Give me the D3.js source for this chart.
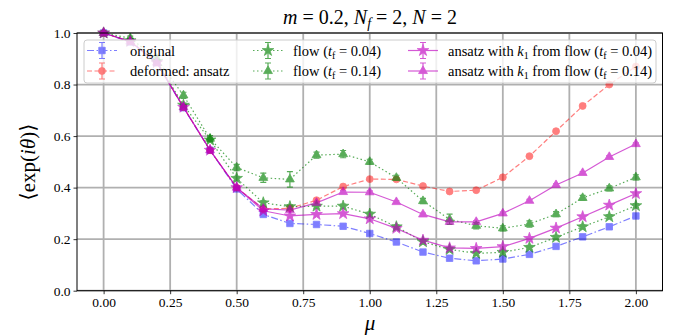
<!DOCTYPE html>
<html><head><meta charset="utf-8">
<script src="https://cdn.jsdelivr.net/npm/d3@7"></script>
<style>
body{margin:0;background:#fff;}
text, tspan {font-family:'Liberation Serif','Times New Roman','DejaVu Serif',serif !important;}
</style></head>
<body><svg id="c" width="678" height="335"></svg>
<script>
const mu = [0,0.1,0.2,0.3,0.4,0.5,0.6,0.7,0.8,0.9,1.0,1.1,1.2,1.3,1.4,1.5,1.6,1.7,1.8,1.9,2.0];
const original   = [1.0,0.965,0.885,0.71,0.545,0.395,0.296,0.261,0.257,0.25,0.222,0.189,0.15,0.126,0.116,0.123,0.141,0.172,0.209,0.248,0.29];
const originalErr= [0,0.003,0.003,0.004,0.004,0.004,0.004,0.004,0.004,0.004,0.004,0.004,0.004,0.004,0.004,0.004,0.004,0.004,0.004,0.004,0.004];
const deformed   = [1.0,0.967,0.885,0.712,0.545,0.40,0.317,0.32,0.351,0.404,0.433,0.432,0.406,0.385,0.39,0.44,0.522,0.619,0.717,0.80,0.87];
const deformedErr= [0,0.003,0.003,0.003,0.003,0.003,0.003,0.003,0.003,0.003,0.003,0.003,0.003,0.003,0.003,0.003,0.003,0.003,0.003,0.003,0.003];
const flow004    = [1.0,0.97,0.89,0.72,0.585,0.436,0.341,0.326,0.328,0.328,0.297,0.248,0.19,0.16,0.145,0.149,0.168,0.207,0.248,0.287,0.33];
const flow004Err = [0,0.006,0.006,0.008,0.008,0.008,0.008,0.008,0.008,0.008,0.008,0.008,0.008,0.008,0.008,0.008,0.008,0.008,0.008,0.008,0.008];
const flow014    = [1.0,0.98,0.90,0.758,0.59,0.478,0.438,0.432,0.526,0.53,0.50,0.438,0.348,0.277,0.252,0.242,0.259,0.297,0.36,0.397,0.44];
const flow014Err = [0,0.008,0.01,0.012,0.012,0.012,0.018,0.03,0.012,0.014,0.01,0.01,0.01,0.02,0.012,0.01,0.012,0.01,0.01,0.01,0.01];
const ans004     = [1.0,0.967,0.885,0.712,0.545,0.40,0.31,0.29,0.296,0.299,0.279,0.242,0.196,0.166,0.164,0.171,0.203,0.243,0.287,0.332,0.377];
const ans004Err  = [0,0.004,0.004,0.005,0.005,0.005,0.005,0.005,0.005,0.005,0.005,0.005,0.005,0.005,0.005,0.005,0.005,0.005,0.005,0.005,0.005];
const ans014     = [1.0,0.967,0.885,0.712,0.545,0.40,0.318,0.313,0.341,0.383,0.382,0.344,0.296,0.267,0.267,0.30,0.349,0.41,0.457,0.519,0.569];
const ans014Err  = [0,0.004,0.004,0.005,0.005,0.005,0.005,0.005,0.005,0.005,0.005,0.005,0.005,0.005,0.005,0.005,0.005,0.005,0.005,0.005,0.005];
const xTicks = [0,0.25,0.5,0.75,1.0,1.25,1.5,1.75,2.0];
const yTicks = [0,0.2,0.4,0.6,0.8,1.0];

const series = [
  {name:[["original"]], y:original, e:originalErr, color:"#0000ff", op:0.5, dash:"7,2.5,1.5,2.5", sym:d3.symbolSquare, size:42},
  {name:[["deformed: ansatz"]], y:deformed, e:deformedErr, color:"#ff0000", op:0.5, dash:"5,2.5", sym:d3.symbolCircle, size:38},
  {name:[["flow ("],["t","i"],["f","sub"],[" = 0.04)"]], y:flow004, e:flow004Err, color:"#008000", op:0.65, dash:"1.5,2.5", sym:d3.symbolStar, size:42},
  {name:[["flow ("],["t","i"],["f","sub"],[" = 0.14)"]], y:flow014, e:flow014Err, color:"#008000", op:0.65, dash:"1.5,2.5", sym:d3.symbolTriangle, size:34},
  {name:[["ansatz with "],["k","i"],["1","sub"],[" from flow ("],["t","i"],["f","sub"],[" = 0.04)"]], y:ans004, e:ans004Err, color:"#bf00bf", op:0.65, dash:null, sym:d3.symbolStar, size:42},
  {name:[["ansatz with "],["k","i"],["1","sub"],[" from flow ("],["t","i"],["f","sub"],[" = 0.14)"]], y:ans014, e:ans014Err, color:"#bf00bf", op:0.65, dash:null, sym:d3.symbolTriangle, size:34}
];

const svg = d3.select("#c");
const L=77, R=662.5, T=33, B=290.7;
const x = d3.scaleLinear().domain([-0.1,2.1]).range([L,R]);
const y = d3.scaleLinear().domain([0,1]).range([B,T]);

// grid
const g = svg.append("g");
g.selectAll(".gx").data(xTicks).enter().append("line")
 .attr("x1",d=>x(d)).attr("x2",d=>x(d)).attr("y1",T).attr("y2",B)
 .attr("stroke","#b0b0b0").attr("stroke-width",1.8);
g.selectAll(".gy").data(yTicks).enter().append("line")
 .attr("y1",d=>y(d)).attr("y2",d=>y(d)).attr("x1",L).attr("x2",R)
 .attr("stroke","#b0b0b0").attr("stroke-width",1.8);

// axes
const xAxis = d3.axisBottom(x).tickValues(xTicks).tickFormat(d3.format(".2f")).tickSize(3.5).tickPadding(3);
const yAxis = d3.axisLeft(y).tickValues(yTicks).tickFormat(d3.format(".1f")).tickSize(3.5).tickPadding(3);
const ax = svg.append("g").attr("transform",`translate(0,${B})`).call(xAxis);
const ay = svg.append("g").attr("transform",`translate(${L},0)`).call(yAxis);
[ax,ay].forEach(a=>{
  a.attr("font-family",null).attr("font-size",null);
  a.select(".domain").remove();
  a.selectAll("text").style("font-size","13.5px").attr("fill","#000");
  a.selectAll("line").attr("stroke","#000").attr("stroke-width",0.8);
});

// series
const line = d3.line().x((d,i)=>x(mu[i])).y(d=>y(d));
series.forEach(s=>{
  const gs = svg.append("g").attr("opacity",s.op);
  gs.append("path").datum(s.y).attr("d",line).attr("fill","none")
    .attr("stroke",s.color).attr("stroke-width",1.2)
    .attr("stroke-dasharray",s.dash);
  const pts = s.y.map((v,i)=>({x:mu[i],v:v,e:s.e[i]}));
  gs.selectAll(".eb").data(pts).enter().append("path")
    .attr("d",d=>{
      const px=x(d.x), y1=y(d.v-d.e), y2=y(d.v+d.e);
      return `M${px},${y1}V${y2}M${px-3},${y1}H${px+3}M${px-3},${y2}H${px+3}`;
    }).attr("stroke",s.color).attr("stroke-width",1.2).attr("fill","none");
  gs.selectAll(".mk").data(pts).enter().append("path")
    .attr("d",d3.symbol().type(s.sym).size(s.size))
    .attr("transform",d=>`translate(${x(d.x)},${y(d.v)})`)
    .attr("fill",s.color).attr("stroke",s.color).attr("stroke-width",0.8);
});

// frame
svg.append("rect").attr("x",L).attr("y",T).attr("width",R-L).attr("height",B-T)
  .attr("fill","none").attr("stroke","#000").attr("stroke-width",1);

// legend
const lg = svg.append("g");
lg.append("rect").attr("x",84).attr("y",40).attr("width",572).attr("height",43).attr("rx",3)
  .attr("fill","#fff").attr("fill-opacity",0.8).attr("stroke","#cccccc").attr("stroke-width",1);
const cols=[{hx:87,tx:130},{hx:253,tx:293},{hx:408,tx:448}];
series.forEach((s,i)=>{
  const c=cols[Math.floor(i/2)], ry=[50.5,71][i%2];
  const h = lg.append("g").attr("opacity",s.op);
  h.append("line").attr("x1",c.hx).attr("x2",c.hx+30).attr("y1",ry).attr("y2",ry)
    .attr("stroke",s.color).attr("stroke-width",1.2).attr("stroke-dasharray",s.dash);
  const mx=c.hx+15;
  h.append("path").attr("d",`M${mx},${ry-8}V${ry+8}M${mx-3},${ry-8}H${mx+3}M${mx-3},${ry+8}H${mx+3}`)
    .attr("stroke",s.color).attr("stroke-width",1.2);
  h.append("path").attr("d",d3.symbol().type(s.sym).size(s.size)).attr("transform",`translate(${mx},${ry})`)
    .attr("fill",s.color).attr("stroke",s.color).attr("stroke-width",0.8);
  const t = lg.append("text").attr("x",c.tx).attr("y",ry+5).style("font-size","14.5px").attr("fill","#000");
  s.name.forEach(p=>{
    const ts=t.append("tspan").text(p[0]);
    if(p[1]==="i") ts.style("font-style","italic");
    if(p[1]==="sub") ts.style("font-size","10px").attr("baseline-shift","-25%");
  });
});

// title
const tt = svg.append("text").attr("x",370).attr("y",24).attr("text-anchor","middle").style("font-size","20px");
[["m","i"],[" = 0.2, "],["N","i"],["f","sub"],[" = 2, "],["N","i"],[" = 2"]].forEach(p=>{
  const ts=tt.append("tspan").text(p[0]);
  if(p[1]==="i") ts.style("font-style","italic");
  if(p[1]==="sub") ts.style("font-size","14px").style("font-style","italic").attr("baseline-shift","-25%");
});
// axis labels
svg.append("text").attr("x",370).attr("y",330).attr("text-anchor","middle").style("font-size","21px")
  .style("font-style","italic").text("μ");
const yl = svg.append("text").attr("transform","translate(35,162) rotate(-90)").attr("text-anchor","middle")
  .style("font-size","21px");
yl.append("tspan").text("⟨exp(");
yl.append("tspan").style("font-style","italic").text("iθ");
yl.append("tspan").text(")⟩");
</script></body></html>
